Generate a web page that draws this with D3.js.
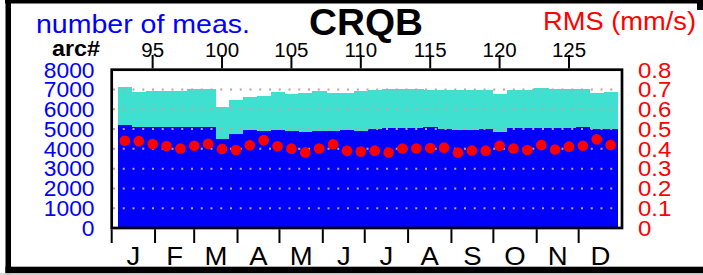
<!DOCTYPE html>
<html><head><meta charset="utf-8">
<script src="https://cdn.jsdelivr.net/npm/d3@7/dist/d3.min.js"></script>
<style>html,body{margin:0;padding:0;background:#fff;overflow:hidden}svg{display:block}</style>
</head><body>
<script>
// ---- data ----
const arcs = [93,94,95,96,97,98,99,100,101,102,103,104,105,106,107,108,109,110,111,112,113,114,115,116,117,118,119,120,121,122,123,124,125,126,127,128];
const totalMeas = [7106,6885,6936,6930,6919,7020,7003,6128,6465,6600,6667,6885,6768,6800,6902,6818,6845,6902,6986,7003,7003,7003,6970,6970,6970,6970,6986,6785,6953,6970,7071,7020,7037,7020,6835,6869];
const usedMeas = [5202,5084,5118,5118,5101,5084,5084,4495,4731,4933,4916,4933,4899,4865,4899,4882,4933,4882,5017,5034,5034,5034,5118,4983,4966,4966,4983,4848,5067,5051,5067,5067,5067,5101,5000,5000];
const rms = [0.441,0.439,0.424,0.414,0.402,0.416,0.426,0.399,0.394,0.418,0.444,0.413,0.401,0.382,0.402,0.423,0.390,0.386,0.391,0.381,0.402,0.402,0.404,0.406,0.381,0.392,0.391,0.416,0.402,0.394,0.419,0.397,0.411,0.416,0.448,0.419];
const leftTicks = [0,1000,2000,3000,4000,5000,6000,7000,8000];
const rightTicks = [0,0.1,0.2,0.3,0.4,0.5,0.6,0.7,0.8];
const rightTickLabels = ["0","0.1","0.2","0.3","0.4","0.5","0.6","0.7","0.8"];
const arcTicks = [95,100,105,110,115,120,125];
const monthLabels = ["J","F","M","A","M","J","J","A","S","O","N","D"];
const gridValues = [1000,2000,3000,4000,5000,6000,7000];
const yearStart = new Date(2021,0,1), yearEnd = new Date(2022,0,1);

// ---- layout ----
const FONT = '"Liberation Sans", Arial, Helvetica, sans-serif';
const L = 111.7, R = 622, T = 69.7, B = 228;
const svg = d3.select('body').append('svg').attr('width',703).attr('height',275);
svg.append('rect').attr('width',703).attr('height',275).attr('fill','#fff');

const xArc = d3.scaleLinear().domain([92.05,128.82]).range([L,R]);
const xTime = d3.scaleTime().domain([yearStart, yearEnd]).range([L,R]);
const yN = d3.scaleLinear().domain([0,8000]).range([B,T]);
const yR = d3.scaleLinear().domain([0,0.8]).range([B,T]);

function txt(x,y,s,o){
  const t = svg.append('text')
    .attr('transform',`translate(${x},${y}) scale(${o.sx||1},1)`)
    .attr('text-anchor',o.anchor||'start')
    .attr('font-family',FONT)
    .attr('font-size',o.size)
    .attr('font-weight',o.weight||'normal')
    .attr('fill',o.fill||'#000')
    .text(s);
  if (o.len) t.attr('textLength',o.len).attr('lengthAdjust','spacingAndGlyphs');
  return t;
}

// outer border
svg.append('rect').attr('x',5).attr('y',0).attr('width',698).attr('height',3.5).attr('fill','#000');
svg.append('rect').attr('x',5.5).attr('y',0).attr('width',5.5).attr('height',273.3).attr('fill','#000');
svg.append('rect').attr('x',5.5).attr('y',266.7).attr('width',697.5).attr('height',6.6).attr('fill','#000');
svg.append('rect').attr('x',697).attr('y',0).attr('width',6).attr('height',10).attr('fill','#000');
svg.append('rect').attr('x',0).attr('y',273.3).attr('width',703).attr('height',1.7).attr('fill','#cfcfcf');

// bars
const bars = svg.append('g').attr('shape-rendering','crispEdges');
arcs.forEach((a,i)=>{
  const x0 = xArc(a-0.5), x1 = xArc(a+0.5);
  const w = x1 - x0 + (i < arcs.length-1 ? 0.6 : 0);
  bars.append('rect').attr('x',x0).attr('width',w)
    .attr('y',yN(totalMeas[i])).attr('height',B - yN(totalMeas[i])).attr('fill','#40e0d0');
});
arcs.forEach((a,i)=>{
  const x0 = xArc(a-0.5), x1 = xArc(a+0.5);
  const w = x1 - x0 + (i < arcs.length-1 ? 0.6 : 0);
  bars.append('rect').attr('x',x0).attr('width',w)
    .attr('y',yN(usedMeas[i])).attr('height',B - yN(usedMeas[i])).attr('fill','#0000ff');
});

// dotted grid
gridValues.forEach(v=>{
  svg.append('line').attr('x1',113).attr('x2',620).attr('y1',yN(v)).attr('y2',yN(v))
    .attr('stroke','#c4a0a0').attr('stroke-width',2).attr('stroke-dasharray','2,7.75');
});

// RMS dots
svg.append('g').selectAll('circle').data(arcs).join('circle')
  .attr('cx',d=>xArc(d)).attr('cy',(d,i)=>yR(rms[i])).attr('r',5.3).attr('fill','#ff0000');

// frame
svg.append('rect').attr('x',L).attr('y',T).attr('width',R-L).attr('height',B-T)
  .attr('fill','none').attr('stroke','#000').attr('stroke-width',2.7);

// top arc axis
arcTicks.forEach(a=>{
  svg.append('line').attr('x1',xArc(a)).attr('x2',xArc(a)).attr('y1',T-1.3).attr('y2',55)
    .attr('stroke','#000').attr('stroke-width',2);
  txt(xArc(a),56.5,String(a),{size:20.5,anchor:'middle'});
});

// month axis
const months = d3.timeMonth.range(yearStart, yearEnd);
months.forEach((m,i)=>{
  const x = xTime(m);
  svg.append('line').attr('x1',x).attr('x2',x).attr('y1',B+1.3).attr('y2',243)
    .attr('stroke','#000').attr('stroke-width',2);
  const next = i < months.length-1 ? months[i+1] : yearEnd;
  txt((x + xTime(next))/2, 265, monthLabels[i], {size:25.5, anchor:'middle', sx:1.08});
});

// left axis labels
leftTicks.forEach(v=>{
  txt(94.5, yN(v)+7.8, String(v), {size:21.5, anchor:'end', fill:'#0000ff', sx:1.06});
});
// right axis labels
rightTicks.forEach((v,i)=>{
  txt(638, yR(v)+7.8, rightTickLabels[i], {size:22, anchor:'start', fill:'#ff0000', sx:1.09});
});

// titles
txt(36, 32.5, 'number of meas.', {size:26, fill:'#0000ff', len:214});
txt(52, 56, 'arc#', {size:22, weight:'bold', len:48});
txt(309, 34.5, 'CRQB', {size:36, weight:'bold', len:114});
txt(543, 30, 'RMS (mm/s)', {size:26, fill:'#ff0000', len:153});
</script>
</body></html>
